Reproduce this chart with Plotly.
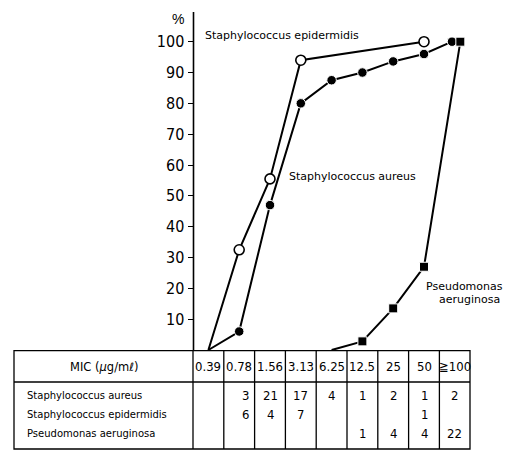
import plotly.graph_objects as go

# ---------------- data ----------------
mic_labels = ["0.39", "0.78", "1.56", "3.13", "6.25", "12.5", "25", "50", "≧100"]
species = ["Staphylococcus aureus", "Staphylococcus epidermidis", "Pseudomonas aeruginosa"]

# strain counts per MIC column ("" = empty cell)
counts_aureus = ["", "3", "21", "17", "4", "1", "2", "1", "2"]
counts_epidermidis = ["", "6", "4", "7", "", "", "", "1", ""]
counts_pseudomonas = ["", "", "", "", "", "1", "4", "4", "22"]

# cumulative % curves (x = MIC column index)
aureus_idx = [0, 1, 2, 3, 4, 5, 6, 7, 8]
aureus_pct = [0, 6, 47, 80, 87.5, 90, 93.6, 96, 100]
epi_idx = [0, 1, 2, 3, 7]
epi_pct = [0, 32.5, 55.5, 94, 100]
pseu_idx = [4, 5, 6, 7, 8]
pseu_pct = [0, 2.8, 13.5, 27, 100]

y_ticks = [10, 20, 30, 40, 50, 60, 70, 80, 90, 100]

# ---------------- geometry helpers (pixel -> data) ----------------
W, H = 516, 452
X0_PX, COL_PX = 208.4, 30.8      # centre of first MIC column, column width
Y0_PX, UNIT_PX = 350.0, 3.083    # y pixel of 0 %, pixels per 1 %


def px2x(px):
    return (px - X0_PX) / COL_PX


def py2y(py):
    return (Y0_PX - py) / UNIT_PX


x_range = [px2x(0), px2x(W)]
y_range = [py2y(H), py2y(0)]

fig = go.Figure()

line_style = dict(color="black", width=2)


def sizes(vals, s):
    # no marker at the 0 % start points
    return [0 if v == 0 else s for v in vals]


# end-point offsets so the overlapping 100 % markers sit side by side
aureus_x = [i - (0.09 if i == 8 else 0) for i in aureus_idx]
pseu_x = [i + (0.18 if i == 8 else 0) for i in pseu_idx]

fig.add_trace(go.Scatter(
    x=epi_idx, y=epi_pct, mode="lines+markers",
    line=line_style,
    marker=dict(symbol="circle", size=sizes(epi_pct, 10), color="#ffffff", opacity=1,
                line=dict(color="black", width=1.6)),
    cliponaxis=False, showlegend=False))

fig.add_trace(go.Scatter(
    x=aureus_x, y=aureus_pct, mode="lines+markers",
    line=line_style,
    marker=dict(symbol="circle", size=sizes(aureus_pct, 9.5), color="black", opacity=1),
    cliponaxis=False, showlegend=False))

fig.add_trace(go.Scatter(
    x=pseu_x, y=pseu_pct, mode="lines+markers",
    line=line_style,
    marker=dict(symbol="square", size=sizes(pseu_pct, 9), color="black", opacity=1),
    cliponaxis=False, showlegend=False))

shapes = []
annotations = []

# y axis line
shapes.append(dict(type="line", xref="x", yref="y",
                   x0=px2x(193.5), x1=px2x(193.5), y0=py2y(12), y1=py2y(350.7),
                   line=dict(color="black", width=1.6)))

# ---------------- table ----------------
T_L, T_R, T_T, T_HB, T_B = 14, 470, 350.7, 382, 449
col_bounds = [193 + COL_PX * k for k in range(len(mic_labels) + 1)]
tl = dict(color="black", width=1.3)
shapes.append(dict(type="rect", xref="x", yref="y",
                   x0=px2x(T_L), x1=px2x(T_R), y0=py2y(T_T), y1=py2y(T_B), line=tl))
shapes.append(dict(type="line", xref="x", yref="y",
                   x0=px2x(T_L), x1=px2x(T_R), y0=py2y(T_HB), y1=py2y(T_HB), line=tl))
for b in col_bounds[:-1]:
    shapes.append(dict(type="line", xref="x", yref="y",
                       x0=px2x(b), x1=px2x(b), y0=py2y(T_T), y1=py2y(T_B), line=tl))

num_font = dict(family="Liberation Sans Narrow, DejaVu Sans Condensed, Liberation Sans, Arial",
                size=13, color="black")
lab_font = dict(family="DejaVu Sans, Liberation Sans", size=10, color="black")

annotations.append(dict(x=px2x(104), y=py2y(366.5), text="MIC (<i>μ</i>g/mℓ)",
                        showarrow=False, font=dict(family="DejaVu Sans, Liberation Sans",
                                                   size=11.5, color="black"),
                        xanchor="center", yanchor="middle"))
for i, lab in enumerate(mic_labels):
    annotations.append(dict(x=i, y=py2y(366.5), text=lab, showarrow=False, font=num_font,
                            xanchor="center", yanchor="middle"))

row_y = [395, 414, 433]
for r, (name, counts) in enumerate(zip(species, [counts_aureus, counts_epidermidis, counts_pseudomonas])):
    annotations.append(dict(x=px2x(25), y=py2y(row_y[r]), text=name, showarrow=False,
                            font=lab_font, xanchor="left", yanchor="middle"))
    for i, c in enumerate(counts):
        if c:
            annotations.append(dict(x=i + (0.22 if i == 1 else 0), y=py2y(row_y[r]), text=c,
                                    showarrow=False, font=num_font,
                                    xanchor="center", yanchor="middle"))

# ---------------- curve labels ----------------
curve_font = dict(family="DejaVu Sans, Liberation Sans", size=11, color="black")
annotations += [
    dict(x=px2x(178), y=py2y(19), text="%", showarrow=False,
         font=dict(family="Liberation Sans Narrow, Liberation Sans", size=14, color="black")),
    dict(x=px2x(203), y=py2y(35), text="Staphylococcus epidermidis", showarrow=False,
         font=curve_font, xanchor="left", yanchor="middle"),
    dict(x=px2x(287), y=py2y(176), text="Staphylococcus aureus", showarrow=False,
         font=curve_font, xanchor="left", yanchor="middle"),
    dict(x=px2x(424), y=py2y(286), text="Pseudomonas", showarrow=False,
         font=curve_font, xanchor="left", yanchor="middle"),
    dict(x=px2x(437), y=py2y(299.5), text="aeruginosa", showarrow=False,
         font=curve_font, xanchor="left", yanchor="middle"),
]

fig.update_layout(
    width=W, height=H,
    margin=dict(l=0, r=0, t=0, b=0),
    paper_bgcolor="white", plot_bgcolor="white",
    shapes=shapes, annotations=annotations,
    xaxis=dict(range=x_range, visible=False, domain=[0, 1]),
    yaxis=dict(range=y_range, domain=[0, 1], anchor="free", position=193.5 / W,
               tickmode="array", tickvals=y_ticks, ticks="outside", ticklen=6,
               tickwidth=1.3, tickcolor="black", showgrid=False, zeroline=False,
               showline=False,
               tickfont=dict(family="Liberation Sans Narrow, DejaVu Sans Condensed, Liberation Sans, Arial",
                             size=16, color="black")),
)

fig.write_html("out.html")
